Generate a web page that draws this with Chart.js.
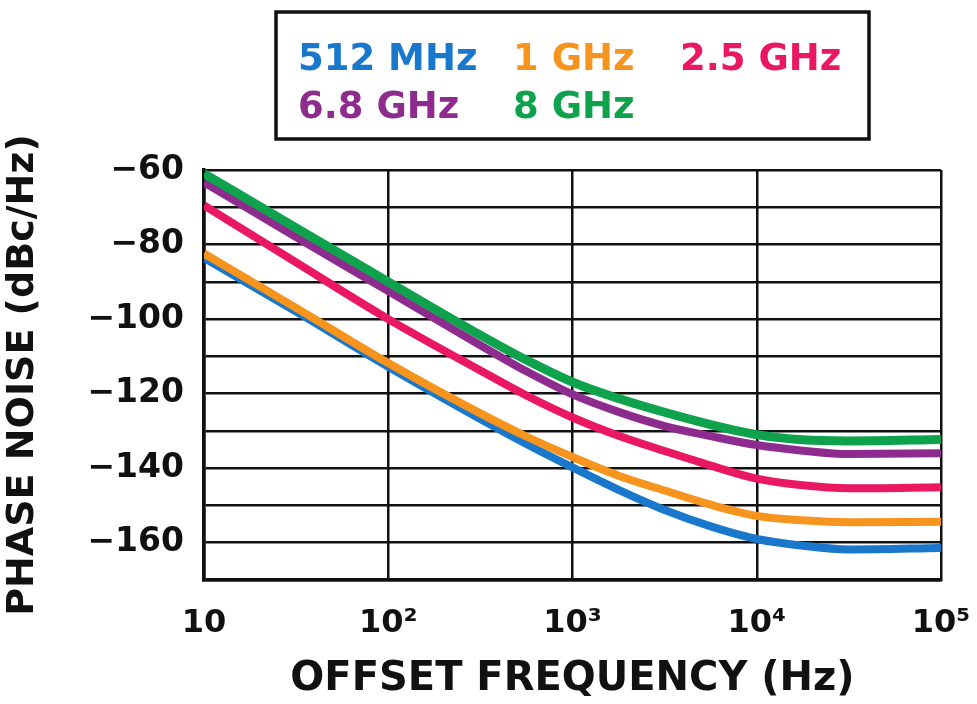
<!DOCTYPE html>
<html>
<head>
<meta charset="utf-8">
<script src="https://cdn.jsdelivr.net/npm/chart.js@4.4.1/dist/chart.umd.min.js"></script>
<style>
  html, body { margin: 0; padding: 0; background: #ffffff; }
  #wrap { width: 977px; height: 704px; position: relative; }
</style>
</head>
<body>
<div id="wrap"><canvas id="c" width="977" height="704"></canvas></div>
<script>
// ---- data ----
const offsetFrequencyHz = [10, 31.6, 100, 316, 562, 1000, 1778, 3162, 5623, 10000, 17783, 31623, 100000];
const seriesLabels = ['512 MHz', '1 GHz', '2.5 GHz', '6.8 GHz', '8 GHz'];
const noise512MHz = [-83.6, -98.0, -112.8, -126.8, -133.5, -139.8, -145.8, -151.2, -155.6, -159.0, -160.8, -161.8, -161.4];
const noise1GHz   = [-82.4, -97.0, -111.8, -125.3, -131.5, -137.0, -142.0, -146.0, -149.8, -152.8, -154.0, -154.5, -154.4];
const noise2p5GHz = [-69.5, -84.8, -100.0, -113.8, -120.5, -126.4, -131.3, -135.4, -139.3, -142.8, -144.6, -145.4, -145.1];
const noise6p8GHz = [-63.3, -78.0, -92.5, -107.0, -114.0, -120.2, -124.9, -128.7, -131.4, -133.8, -135.3, -136.2, -136.0];
const noise8GHz   = [-61.0, -75.5, -90.0, -104.3, -111.0, -116.9, -121.3, -125.0, -128.3, -131.0, -132.4, -132.7, -132.3];
const xTickValues = [10, 100, 1000, 10000, 100000];
const xTickLabels = ['10', '10\u00B2', '10\u00B3', '10\u2074', '10\u2075'];
const yMin = -170, yMax = -60;

const colors = ['#1a78cc', '#f7941d', '#ea1763', '#8e2b8f', '#0ea24c'];
const allSeries = [noise512MHz, noise1GHz, noise2p5GHz, noise6p8GHz, noise8GHz];
const drawOrder = [5, 4, 3, 2, 1];

const FONT = "'DejaVu Sans', sans-serif";

const datasets = allSeries.map((vals, i) => ({
  label: seriesLabels[i],
  data: vals.map((v, k) => ({ x: offsetFrequencyHz[k], y: v })),
  borderColor: colors[i],
  backgroundColor: colors[i],
  borderWidth: i === 4 ? 9 : 8,
  pointRadius: 0,
  cubicInterpolationMode: 'monotone',
  fill: false,
  order: drawOrder[i]
}));

const legendBox = {
  id: 'legendBox',
  afterDraw(chart) {
    const ctx = chart.ctx;
    ctx.save();
    ctx.lineWidth = 3.5;
    ctx.strokeStyle = '#111';
    ctx.strokeRect(276, 12, 593, 127);
    ctx.font = "bold 37px " + FONT;
    ctx.textBaseline = 'alphabetic';
    ctx.textAlign = 'left';
    const pos = [[298, 70], [513, 70], [680, 70], [298, 118], [513, 118]];
    chart.data.datasets.forEach((ds, i) => {
      ctx.fillStyle = ds.borderColor;
      ctx.fillText(ds.label, pos[i][0], pos[i][1]);
    });
    ctx.restore();
  }
};

new Chart(document.getElementById('c'), {
  type: 'line',
  data: { datasets },
  options: {
    responsive: false,
    animation: false,
    devicePixelRatio: 1,
    layout: { padding: { top: 170, right: 36, left: 0, bottom: 0 } },
    plugins: { legend: { display: false }, tooltip: { enabled: false } },
    scales: {
      x: {
        type: 'logarithmic',
        min: 10, max: 100000,
        afterBuildTicks(scale) { scale.ticks = xTickValues.map(v => ({ value: v })); },
        afterFit(scale) {
          scale.height = 124;
          scale.paddingLeft = 0;
          scale.paddingRight = 0;
        },
        ticks: {
          autoSkip: false,
          maxRotation: 0,
          color: '#111',
          padding: 24,
          font: { family: FONT, size: 32, weight: 'bold' },
          callback(value) {
            const idx = xTickValues.indexOf(value);
            return idx >= 0 ? xTickLabels[idx] : '';
          }
        },
        grid: { color: '#111', lineWidth: 2.5, drawTicks: false },
        border: { color: '#111', width: 3.5 },
        title: {
          display: true,
          text: 'OFFSET FREQUENCY (Hz)',
          color: '#111',
          font: { family: FONT, size: 40, weight: 'bold' },
          padding: { top: 0, bottom: 0 }
        }
      },
      y: {
        type: 'linear',
        min: yMin, max: yMax,
        afterFit(scale) {
          scale.width = 204;
          scale.paddingTop = 0;
          scale.paddingBottom = 0;
        },
        ticks: {
          stepSize: 10,
          autoSkip: false,
          color: '#111',
          padding: 20,
          font: { family: FONT, size: 33, weight: 'bold' },
          callback(value) {
            return value % 20 === 0 ? '\u2212' + Math.abs(value) : '';
          }
        },
        grid: { color: '#111', lineWidth: 2.5, drawTicks: false },
        border: { color: '#111', width: 3.5 },
        title: {
          display: true,
          text: 'PHASE NOISE (dBc/Hz)',
          color: '#111',
          font: { family: FONT, size: 38, weight: 'bold' },
          padding: { top: 0, bottom: 0 }
        }
      }
    }
  },
  plugins: [legendBox]
});
</script>
</body>
</html>
